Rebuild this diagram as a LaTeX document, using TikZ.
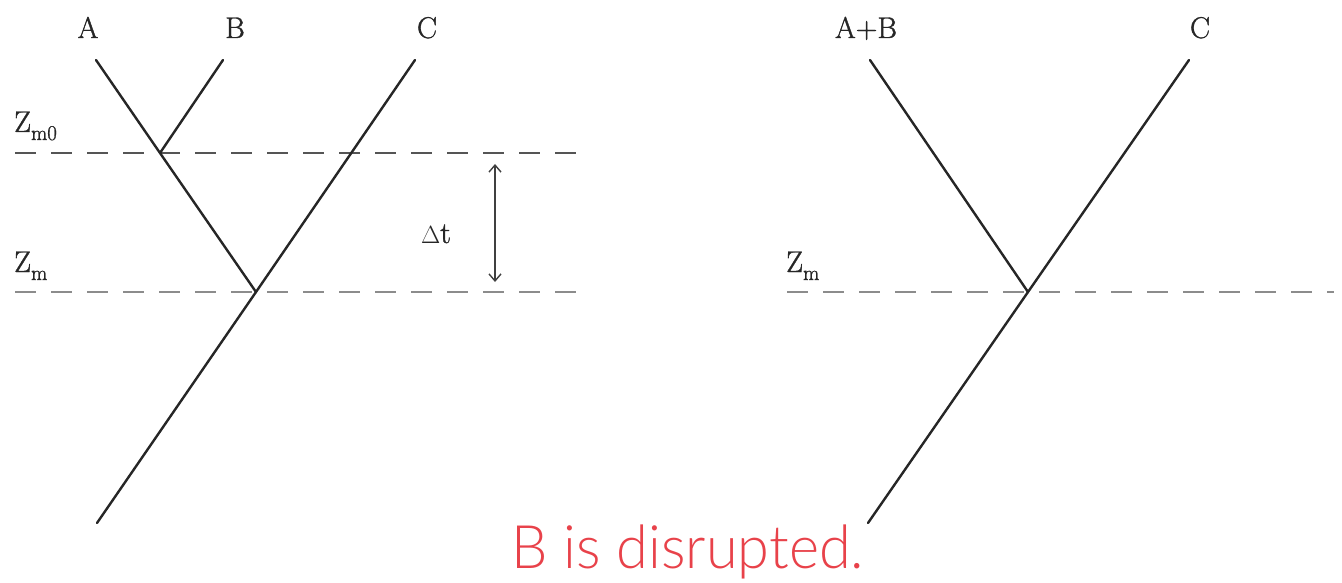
\documentclass[tikz,border=0pt]{standalone}
\usepackage{fontspec}
\newfontfamily\redfont{Lato Light}
\newfontfamily\labfont{Latin Modern Roman}[BoldFont={Latin Modern Roman}, BoldFeatures={FakeBold=1.2}]
\usetikzlibrary{arrows.meta}
\definecolor{redtxt}{RGB}{232,66,74}
\definecolor{dashdark}{RGB}{85,85,85}
\definecolor{dashlight}{RGB}{140,140,140}
\newcommand{\lowsub}[1]{\raisebox{-8pt}{\fontsize{21}{21}\selectfont #1}}
\tikzset{
  branch/.style={line width=2.4pt, black!85, line cap=round},
  level/.style={line width=2.6pt, dash pattern=on 21pt off 15pt},
  lab/.style={font=\labfont\bfseries\fontsize{30}{32}\selectfont, inner sep=0pt, text=black!85},
  dtarrow/.style={line width=1.4pt, black!75, {Straight Barb[length=7pt,width=12pt]}-{Straight Barb[length=7pt,width=12pt]}},
}
\begin{document}
\begin{tikzpicture}[x=1pt,y=-1pt]
\useasboundingbox (0,0) rectangle (1342,583);
% ---- left tree ----
\coordinate (Atop) at (96,60);
\coordinate (Btop) at (223,60);
\coordinate (Ctop) at (415,60);
\coordinate (jAB) at (160,153);
\coordinate (jC) at (256,292);
\coordinate (Cbot) at (97,523);
\coordinate (Zm0L) at (15,153);
\coordinate (Zm0R) at (578,153);
\coordinate (ZmL) at (15,292);
\coordinate (ZmR) at (578,292);
\coordinate (arT) at (495,164);
\coordinate (arB) at (495,282);
\node[lab, anchor=base] (labA) at (88,38) {A};
\node[lab, anchor=base] (labB) at (235,38) {B};
\node[lab, anchor=base] (labC) at (427,38) {C};
\node[lab, anchor=base west] (labZm0) at (14,132) {Z\lowsub{m0}};
\node[lab, anchor=base west] (labZm) at (14,272) {Z\lowsub{m}};
\node[lab, anchor=base] (labdt) at (436,243) {$\Delta$t};
\draw[level, dashdark] (Zm0L) -- (Zm0R);
\draw[level, dashlight] (ZmL) -- (ZmR);
\draw[branch] (Atop) -- (jAB) -- (jC);
\draw[branch] (Btop) -- (jAB);
\draw[branch] (Ctop) -- (jC) -- (Cbot);
\draw[dtarrow] (arT) -- (arB);
% ---- right tree ----
\coordinate (ABtop) at (870,60);
\coordinate (C2top) at (1189,60);
\coordinate (jR) at (1028,292);
\coordinate (C2bot) at (868,523);
\coordinate (ZmL2) at (787,292);
\coordinate (ZmR2) at (1334,292);
\node[lab, anchor=base] (labAB) at (866,38) {A+B};
\node[lab, anchor=base] (labC2) at (1200,38) {C};
\node[lab, anchor=base west] (labZm2) at (786,272) {Z\lowsub{m}};
\draw[level, dashlight] (ZmL2) -- (ZmR2);
\draw[branch] (ABtop) -- (jR);
\draw[branch] (C2top) -- (jR) -- (C2bot);
% ---- caption ----
\node[inner sep=0pt, anchor=base, text=redtxt, font=\redfont\fontsize{60}{64}\selectfont] (cap) at (688,568) {\scalebox{0.96}[1]{B is disrupted.}};
\end{tikzpicture}
\end{document}
